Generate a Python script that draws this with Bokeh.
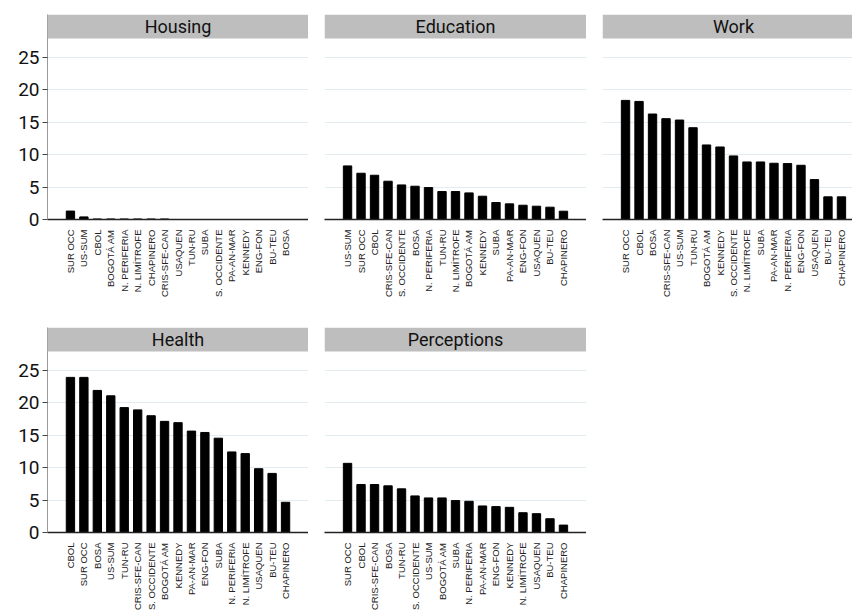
import numpy as np
from bokeh.plotting import figure
from bokeh.layouts import row, column
from bokeh.models import (FactorRange, Range1d, FixedTicker, BoxAnnotation, Label,
                          GlobalInlineStyleSheet, ColumnDataSource)
from bokeh.embed import file_html
from bokeh.resources import INLINE

# ---------------- data ----------------
housing_cats = ["SUR OCC", "US-SUM", "CBOL", "BOGOTÁ AM", "N. PERIFERIA", "N. LIMÍTROFE",
                "CHAPINERO", "CRIS-SFE-CAN", "USAQUEN", "TUN-RU", "SUBA", "S. OCCIDENTE",
                "PA-AN-MAR", "KENNEDY", "ENG-FON", "BU-TEU", "BOSA"]
housing_vals = [1.3, 0.4, 0.08, 0.08, 0.08, 0.08, 0.08, 0.08, 0, 0, 0, 0, 0, 0, 0, 0, 0]

education_cats = ["US-SUM", "SUR OCC", "CBOL", "CRIS-SFE-CAN", "S. OCCIDENTE", "BOSA",
                  "N. PERIFERIA", "TUN-RU", "N. LIMÍTROFE", "BOGOTÁ AM", "KENNEDY", "SUBA",
                  "PA-AN-MAR", "ENG-FON", "USAQUEN", "BU-TEU", "CHAPINERO"]
education_vals = [8.26, 7.13, 6.82, 5.9, 5.33, 5.13, 4.92, 4.31, 4.31, 4.1, 3.59, 2.62,
                  2.41, 2.2, 2.05, 1.9, 1.28]

work_cats = ["SUR OCC", "CBOL", "BOSA", "CRIS-SFE-CAN", "US-SUM", "TUN-RU", "BOGOTÁ AM",
             "KENNEDY", "S. OCCIDENTE", "N. LIMÍTROFE", "SUBA", "PA-AN-MAR", "N. PERIFERIA",
             "ENG-FON", "USAQUEN", "BU-TEU", "CHAPINERO"]
work_vals = [18.36, 18.2, 16.26, 15.54, 15.33, 14.15, 11.49, 11.18, 9.8, 8.87, 8.87, 8.67,
             8.62, 8.36, 6.15, 3.49, 3.49]

health_cats = ["CBOL", "SUR OCC", "BOSA", "US-SUM", "TUN-RU", "CRIS-SFE-CAN", "S. OCCIDENTE",
               "BOGOTÁ AM", "KENNEDY", "PA-AN-MAR", "ENG-FON", "SUBA", "N. PERIFERIA",
               "N. LIMÍTROFE", "USAQUEN", "BU-TEU", "CHAPINERO"]
health_vals = [23.91, 23.91, 21.9, 21.07, 19.25, 18.9, 18.0, 17.13, 16.93, 15.63, 15.42,
               14.54, 12.42, 12.16, 9.83, 9.11, 4.66]

perceptions_cats = ["SUR OCC", "CBOL", "CRIS-SFE-CAN", "BOSA", "TUN-RU", "S. OCCIDENTE",
                    "US-SUM", "BOGOTÁ AM", "SUBA", "N. PERIFERIA", "PA-AN-MAR", "ENG-FON",
                    "KENNEDY", "N. LIMÍTROFE", "USAQUEN", "BU-TEU", "CHAPINERO"]
perceptions_vals = [10.66, 7.4, 7.4, 7.19, 6.73, 5.64, 5.33, 5.33, 4.92, 4.81, 4.09, 3.99,
                    3.88, 3.05, 2.9, 2.12, 1.14]

y_ticks = [0, 5, 10, 15, 20, 25]
Y_TOP = 31.6
STRIP_BOTTOM = 27.9

TITLE_FONT = "Roboto"
TICK_FONT = "Roboto"
LABEL_FONT = "Liberation Sans"


def panel(title, cats, vals, show_y, bottom_border):
    p = figure(
        x_range=FactorRange(*cats, range_padding=0.142),
        y_range=Range1d(0, Y_TOP),
        frame_width=262 if not show_y else 261,
        frame_height=205,
        output_backend="svg",
        toolbar_location=None,
        y_axis_location="left" if show_y else None,
        min_border_left=47 if show_y else 16,
        min_border_right=0,
        min_border_top=14,
        min_border_bottom=bottom_border,
    )
    p.outline_line_color = None
    p.background_fill_color = "white"
    p.border_fill_color = "white"

    src = ColumnDataSource(dict(cat=cats, val=vals))
    p.vbar(x="cat", top="val", width=0.62, source=src, fill_color="black", line_color="black")

    # grid
    p.xgrid.grid_line_color = None
    p.ygrid.ticker = FixedTicker(ticks=y_ticks)
    p.ygrid.grid_line_color = "#e2ebef"
    p.ygrid.grid_line_width = 1

    # strip with title
    p.add_layout(BoxAnnotation(bottom=STRIP_BOTTOM, fill_color="#bebebe", fill_alpha=1.0,
                               line_color=None, level="overlay"))
    p.add_layout(Label(x=len(cats) / 2, y=(STRIP_BOTTOM + Y_TOP) / 2, text=title,
                       text_align="center", text_baseline="middle",
                       text_font=TITLE_FONT, text_font_size="18px", text_color="#111111",
                       level="overlay"))

    # x axis
    xa = p.xaxis[0]
    xa.major_label_orientation = np.pi / 2
    xa.major_label_text_font = LABEL_FONT
    xa.major_label_text_font_size = "9.5px"
    xa.major_label_text_color = "#222222"
    xa.major_label_standoff = 4
    xa.major_tick_line_color = None
    xa.minor_tick_line_color = None
    xa.axis_line_color = "#222222"
    xa.axis_line_width = 1.3

    if show_y:
        ya = p.yaxis[0]
        ya.ticker = FixedTicker(ticks=y_ticks)
        ya.major_label_text_font = TICK_FONT
        ya.major_label_text_font_size = "19px"
        ya.major_label_text_color = "#111111"
        ya.major_label_standoff = 3
        ya.major_tick_out = 5
        ya.major_tick_in = 0
        ya.major_tick_line_color = "#444444"
        ya.minor_tick_line_color = None
        ya.axis_line_color = "#9a9a9a"
        ya.axis_line_width = 1
    return p


f1 = panel("Housing", housing_cats, housing_vals, True, 94)
f2 = panel("Education", education_cats, education_vals, False, 94)
f3 = panel("Work", work_cats, work_vals, False, 94)
f4 = panel("Health", health_cats, health_vals, True, 80)
f5 = panel("Perceptions", perceptions_cats, perceptions_vals, False, 80)

layout = column(row(f1, f2, f3), row(f4, f5),
                stylesheets=[GlobalInlineStyleSheet(css="html, body { overflow: hidden; margin: 0; }")])

open("out.html", "w").write(file_html(layout, INLINE))
